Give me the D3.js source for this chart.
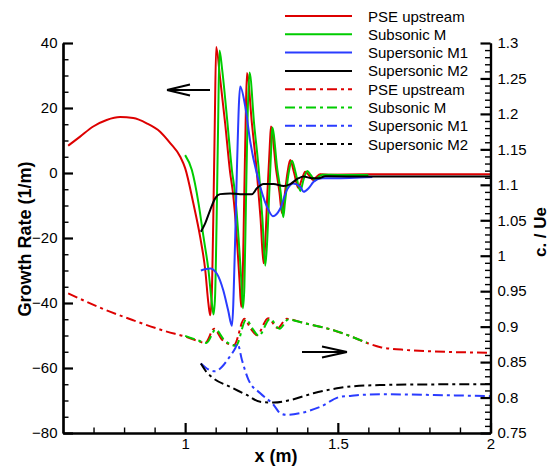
<!DOCTYPE html>
<html>
<head>
<meta charset="utf-8">
<script src="https://cdn.jsdelivr.net/npm/d3@7"></script>
<style>
  html, body { margin: 0; padding: 0; background: #fff; }
  svg { display: block; }
  text { font-family: "Liberation Sans", Arial, Helvetica, sans-serif; fill: #000; }
</style>
</head>
<body>
<svg id="chart" width="550" height="470"></svg>
<script>
// ---- data: growth rate (left axis, 1/m) ----
const pseUpstreamGrowth = [[0.617,8.4],[0.656,11.2],[0.699,14.3],[0.743,16.3],[0.787,17.2],[0.83,16.9],[0.874,15.3],[0.918,12.7],[0.951,9.2],[0.984,5.0],[1.0,1.5],[1.027,-9.4],[1.049,-19.6],[1.066,-30],[1.076,-40],[1.082,-43.8],[1.087,-38],[1.092,-15],[1.097,15],[1.1016,38.8],[1.115,28.7],[1.131,15.3],[1.1475,0],[1.1565,-6],[1.169,-19.6],[1.178,-33],[1.1836,-41.2],[1.188,-35],[1.193,-10],[1.198,15],[1.2023,30.8],[1.2186,15.3],[1.235,0],[1.247,-14],[1.2568,-27.8],[1.262,-22],[1.27,-5],[1.277,8],[1.281,14.3],[1.298,1],[1.309,-6],[1.317,-12.4],[1.323,-9],[1.335,0],[1.344,4],[1.357,0],[1.3705,-4.6],[1.382,-2],[1.3934,0.4],[1.405,-0.6],[1.4197,-2.2],[1.43,-1.2],[1.4426,-0.4],[1.47,-0.5],[1.6,-0.4],[2.0,-0.4]];
const subsonicGrowth = [[1.0,5.5],[1.022,0.9],[1.044,-9.4],[1.06,-19.6],[1.0765,-30],[1.0875,-40],[1.093,-43.5],[1.098,-38],[1.103,-15],[1.108,15],[1.1125,37.7],[1.121,32],[1.137,17],[1.153,1],[1.163,-6],[1.175,-20],[1.184,-33],[1.1892,-41.6],[1.194,-35],[1.199,-10],[1.204,15],[1.2108,30.9],[1.226,15],[1.242,0],[1.253,-14],[1.2623,-28.5],[1.268,-22],[1.276,-5],[1.282,8],[1.2852,14],[1.302,1],[1.313,-6],[1.3213,-13.6],[1.327,-9],[1.339,0],[1.3498,3.8],[1.362,0],[1.377,-5.5],[1.388,-2],[1.4,0.6],[1.411,-0.6],[1.4262,-2.2],[1.436,-1.2],[1.449,-0.5],[1.5,-0.6],[1.6,-0.6]];
const supersonicM1Growth = [[1.0515,-30],[1.082,-29.4],[1.104,-31],[1.1246,-36],[1.141,-42.3],[1.1531,-47],[1.164,-19.6],[1.1695,1],[1.1803,26.6],[1.1967,20.5],[1.2131,9.7],[1.2459,-4.2],[1.2731,-11.4],[1.2875,-13.3],[1.3115,-10.9],[1.3334,-5.2],[1.3541,-3.2],[1.377,-4.2],[1.3879,-5.8],[1.4043,-4.7],[1.4207,-2.7],[1.4482,-1.6],[1.4852,-1.6],[1.613,-1.2]];
const supersonicM2Growth = [[1.0515,-18.1],[1.0656,-15.5],[1.082,-11.4],[1.0984,-7.8],[1.1148,-6.5],[1.1475,-6.3],[1.1803,-6.5],[1.2187,-6.5],[1.2351,-4.7],[1.2567,-3.4],[1.2895,-3.4],[1.3223,-4.0],[1.3443,-3.4],[1.3715,-1.6],[1.3879,-1.1],[1.4154,-1.6],[1.437,-1.6],[1.459,-1.0],[1.6,-1.1],[2.0,-1.1]];

// ---- data: phase speed c / Ue (right axis) ----
const pseUpstreamSpeed = [[0.617,0.947],[0.72,0.927],[0.83,0.909],[0.94,0.893],[1.0,0.886],[1.04,0.88],[1.066,0.877],[1.095,0.897],[1.12,0.882],[1.16,0.874],[1.194,0.911],[1.215,0.897],[1.235,0.888],[1.272,0.912],[1.303,0.898],[1.332,0.911],[1.39,0.905],[1.42,0.902],[1.486,0.895],[1.55,0.885],[1.596,0.877],[1.64,0.871],[1.727,0.867],[1.814,0.865],[1.945,0.8635],[2.0,0.863]];
const subsonicSpeed = [[1.0,0.887],[1.04,0.881],[1.07,0.877],[1.1,0.896],[1.126,0.882],[1.166,0.873],[1.2,0.91],[1.221,0.897],[1.241,0.887],[1.278,0.911],[1.309,0.897],[1.338,0.91],[1.39,0.905],[1.42,0.902],[1.486,0.895],[1.55,0.885],[1.596,0.877]];
const supersonicM1Speed = [[1.0515,0.848],[1.071,0.841],[1.098,0.837],[1.12,0.843],[1.14,0.854],[1.164,0.8695],[1.1715,0.876],[1.186,0.853],[1.2075,0.825],[1.246,0.806],[1.29,0.7895],[1.311,0.778],[1.333,0.7755],[1.377,0.778],[1.443,0.787],[1.508,0.801],[1.541,0.8022],[1.574,0.8036],[1.661,0.8046],[1.814,0.8036],[2.0,0.802]];
const supersonicM2Speed = [[1.0515,0.848],[1.07,0.836],[1.093,0.827],[1.1475,0.815],[1.2,0.804],[1.246,0.794],[1.29,0.793],[1.344,0.7965],[1.42,0.806],[1.497,0.813],[1.552,0.816],[1.65,0.8177],[1.8,0.8185],[2.0,0.8188]];

// ---- axis ticks and legend ----
const xMajorTicks = [1, 1.5, 2];
const growthTicks = [40, 20, 0, -20, -40, -60, -80];
const speedTicks = [0.75, 0.8, 0.85, 0.9, 0.95, 1, 1.05, 1.1, 1.15, 1.2, 1.25, 1.3];
const seriesNames = ["PSE upstream", "Subsonic M", "Supersonic M1", "Supersonic M2"];
const seriesColors = ["#dd0000", "#00cc00", "#2a3cff", "#000000"];

const svg = d3.select("#chart");
const plotLeft = 63, plotRight = 490.5, plotTop = 43, plotBottom = 433;

const x = d3.scaleLinear().domain([0.6, 2]).range([plotLeft, plotRight]);
const yG = d3.scaleLinear().domain([-80, 40]).range([plotBottom, plotTop]);
const yC = d3.scaleLinear().domain([0.75, 1.3]).range([plotBottom, plotTop]);

const dashDot = "10,4,3,4";

// curves
const growthLine = d3.line().x(d => x(d[0])).y(d => yG(d[1])).curve(d3.curveMonotoneX);
const speedLine = d3.line().x(d => x(d[0])).y(d => yC(d[1])).curve(d3.curveMonotoneX);

const growthSets = [pseUpstreamGrowth, subsonicGrowth, supersonicM1Growth, supersonicM2Growth];
const speedSets = [pseUpstreamSpeed, subsonicSpeed, supersonicM1Speed, supersonicM2Speed];

const plot = svg.append("g");
speedSets.forEach((s, i) => {
  plot.append("path").datum(s).attr("d", speedLine)
    .attr("fill", "none").attr("stroke", seriesColors[i])
    .attr("stroke-width", 2).attr("stroke-dasharray", dashDot);
});
growthSets.forEach((s, i) => {
  plot.append("path").datum(s).attr("d", growthLine)
    .attr("fill", "none").attr("stroke", seriesColors[i])
    .attr("stroke-width", 2).attr("stroke-linejoin", "round");
});

// axes with inward ticks
function styleAxis(g, major) {
  g.select(".domain").attr("stroke", "#000").attr("stroke-width", 2.2);
  g.selectAll(".tick line").attr("stroke", "#000").attr("stroke-width", major ? 2.2 : 1.4);
  g.selectAll("text").style("font-size", "15px").attr("fill", "#000");
}

const leftMinor = d3.range(-75, 40, 5).filter(v => v % 20 !== 0);
svg.append("g").attr("transform", `translate(${plotLeft},0)`)
  .call(d3.axisLeft(yG).tickValues(leftMinor).tickSize(-5.5).tickSizeOuter(0).tickFormat(""))
  .call(g => styleAxis(g, false));
svg.append("g").attr("transform", `translate(${plotLeft},0)`)
  .call(d3.axisLeft(yG).tickValues(growthTicks).tickSize(-10).tickSizeOuter(0).tickPadding(5.5).tickFormat(d3.format("d")))
  .call(g => styleAxis(g, true));

const rightMinor = d3.range(75, 131).filter(v => v % 5 !== 0).map(v => v / 100);
svg.append("g").attr("transform", `translate(${plotRight},0)`)
  .call(d3.axisRight(yC).tickValues(rightMinor).tickSize(-5.5).tickSizeOuter(0).tickFormat(""))
  .call(g => styleAxis(g, false));
svg.append("g").attr("transform", `translate(${plotRight},0)`)
  .call(d3.axisRight(yC).tickValues(speedTicks).tickSize(-10).tickSizeOuter(0).tickPadding(7).tickFormat(d => String(+d.toFixed(2))))
  .call(g => styleAxis(g, true));

const xMinor = d3.range(7, 20).filter(v => v % 5 !== 0).map(v => v / 10);
svg.append("g").attr("transform", `translate(0,${plotBottom})`)
  .call(d3.axisBottom(x).tickValues(xMinor).tickSize(-5.5).tickSizeOuter(0).tickFormat(""))
  .call(g => styleAxis(g, false));
svg.append("g").attr("transform", `translate(0,${plotBottom})`)
  .call(d3.axisBottom(x).tickValues(xMajorTicks).tickSize(-10).tickSizeOuter(0).tickPadding(5).tickFormat(d => String(d)))
  .call(g => styleAxis(g, true));

// axis titles
svg.append("text").attr("transform", "translate(31,239) rotate(-90)")
  .attr("text-anchor", "middle").style("font-size", "18px").style("font-weight", "bold")
  .text("Growth Rate (1/m)");
svg.append("text").attr("transform", "translate(546,232) rotate(-90)")
  .attr("text-anchor", "middle").style("font-size", "17px").style("font-weight", "bold")
  .text("c. / Ue");
svg.append("text").attr("x", 276).attr("y", 462)
  .attr("text-anchor", "middle").style("font-size", "18px").style("font-weight", "bold")
  .text("x (m)");

// arrows pointing to each curve family's axis
const arrows = svg.append("g").attr("fill", "none").attr("stroke", "#000").attr("stroke-width", 2);
arrows.append("path").attr("d", "M210,90 L167,90 M167,90 L190,84.5 M167,90 L190,95.5");
arrows.append("path").attr("d", "M302,352 L347,352 M347,352 L322,346.5 M347,352 L322,357.5");

// legend
const legend = svg.append("g");
const rowsY = d3.range(8).map(i => 16 + i * 18.3);
rowsY.forEach((ry, i) => {
  const k = i % 4;
  legend.append("line").attr("x1", 285).attr("x2", 352).attr("y1", ry).attr("y2", ry)
    .attr("stroke", seriesColors[k]).attr("stroke-width", 2)
    .attr("stroke-dasharray", i < 4 ? null : dashDot);
  legend.append("text").attr("x", 368).attr("y", ry + 5.5)
    .style("font-size", "15px").text(seriesNames[k]);
});
</script>
</body>
</html>
